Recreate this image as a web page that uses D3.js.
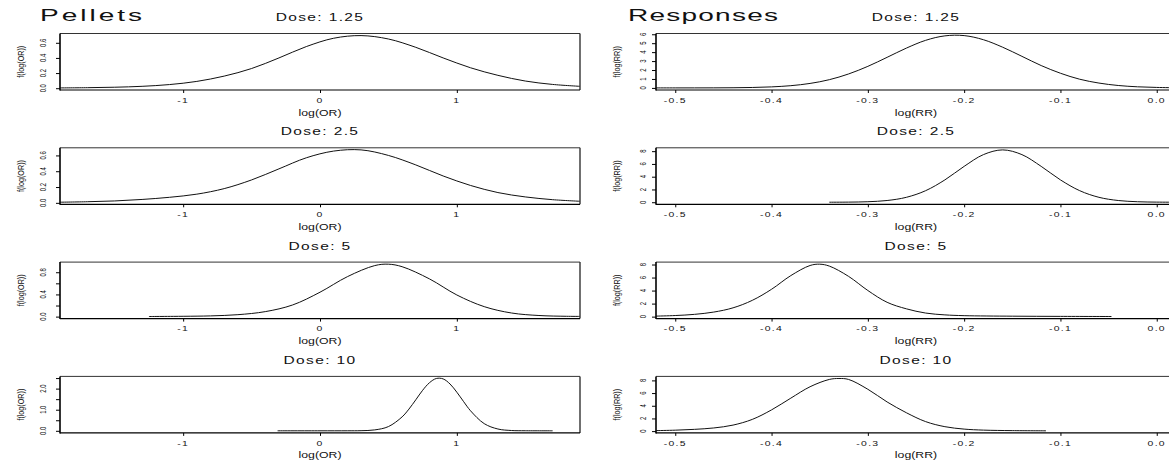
<!DOCTYPE html>
<html>
<head>
<meta charset="utf-8">
<script src="https://cdn.jsdelivr.net/npm/d3@7"></script>
<style>
  body { margin: 0; background: #fff; }
  text { font-family: "Liberation Sans", Arial, Helvetica, sans-serif; fill: #111; }
</style>
</head>
<body>
<svg id="chart" width="1169" height="466"></svg>
<script>
// Panel titles
const doses = ["1.25", "2.5", "5", "10"];

// Pellets: log(OR) grid and densities
const orGrid = [-1.9, -1.7, -1.5, -1.3, -1.1, -0.9, -0.7, -0.5, -0.3, -0.1, 0.1, 0.3, 0.5, 0.7, 0.9, 1.1, 1.3, 1.5, 1.7, 1.9];
const pellets125 = [0.004, 0.007, 0.013, 0.025, 0.048, 0.09, 0.16, 0.26, 0.40, 0.55, 0.66, 0.695, 0.65, 0.54, 0.40, 0.27, 0.17, 0.095, 0.05, 0.025];
const pellets25 = [0.008, 0.014, 0.024, 0.043, 0.07, 0.11, 0.18, 0.29, 0.43, 0.57, 0.655, 0.67, 0.60, 0.48, 0.34, 0.22, 0.13, 0.075, 0.04, 0.02];
const pellets5X = [-1.25, -1.0, -0.8, -0.6, -0.4, -0.2, 0, 0.2, 0.4, 0.5, 0.6, 0.8, 1.0, 1.2, 1.4, 1.6, 1.8, 1.9];
const pellets5 = [0.002, 0.006, 0.013, 0.035, 0.09, 0.21, 0.44, 0.72, 0.92, 0.945, 0.90, 0.68, 0.39, 0.18, 0.065, 0.02, 0.006, 0.004];
const pellets10X = [-0.31, 0.0, 0.2, 0.3, 0.4, 0.5, 0.6, 0.65, 0.7, 0.75, 0.8, 0.85, 0.9, 0.95, 1.0, 1.05, 1.1, 1.2, 1.3, 1.4, 1.5, 1.7];
const pellets10 = [0.0, 0.0, 0.001, 0.006, 0.043, 0.20, 0.66, 1.03, 1.47, 1.92, 2.28, 2.48, 2.46, 2.22, 1.83, 1.38, 0.95, 0.34, 0.085, 0.014, 0.003, 0.0];

// Responses: log(RR) grids and densities
const rr125X = [-0.52, -0.50, -0.48, -0.46, -0.44, -0.42, -0.40, -0.38, -0.36, -0.34, -0.32, -0.30, -0.28, -0.26, -0.24, -0.22, -0.20, -0.18, -0.16, -0.14, -0.12, -0.10, -0.08, -0.06, -0.04, -0.02, 0.00, 0.02];
const responses125 = [0.0, 0.001, 0.002, 0.006, 0.018, 0.048, 0.114, 0.25, 0.50, 0.92, 1.56, 2.41, 3.42, 4.45, 5.32, 5.82, 5.85, 5.39, 4.55, 3.53, 2.50, 1.64, 0.97, 0.54, 0.27, 0.124, 0.053, 0.02];
const rr25X = [-0.34, -0.32, -0.30, -0.28, -0.26, -0.24, -0.22, -0.20, -0.18, -0.16, -0.14, -0.12, -0.10, -0.08, -0.06, -0.04, -0.02, 0.0, 0.02];
const responses25 = [0.004, 0.019, 0.08, 0.27, 0.77, 1.81, 3.50, 5.62, 7.46, 8.2, 7.46, 5.62, 3.50, 1.81, 0.77, 0.27, 0.08, 0.019, 0.004];
const rr5X = [-0.52, -0.50, -0.48, -0.46, -0.44, -0.42, -0.40, -0.38, -0.36, -0.35, -0.34, -0.32, -0.30, -0.28, -0.26, -0.24, -0.22, -0.20, -0.15, -0.10, -0.047];
const responses5 = [0.08, 0.17, 0.35, 0.7, 1.35, 2.5, 4.2, 6.3, 7.85, 8.05, 7.76, 6.18, 4.01, 2.2, 1.2, 0.55, 0.27, 0.15, 0.07, 0.04, 0.02];
const rr10X = [-0.52, -0.50, -0.48, -0.46, -0.44, -0.42, -0.40, -0.38, -0.36, -0.34, -0.33, -0.32, -0.30, -0.28, -0.26, -0.24, -0.22, -0.20, -0.18, -0.15, -0.115];
const responses10 = [0.08, 0.15, 0.28, 0.5, 0.95, 1.85, 3.35, 5.2, 7.0, 8.15, 8.3, 8.15, 6.6, 4.6, 2.9, 1.5, 0.7, 0.32, 0.16, 0.08, 0.05];

// Axis ticks and labels
const orXTicks = [-1, 0, 1];
const orXLabels = ["-1", "0", "1"];
const rrXTicks = [-0.5, -0.4, -0.3, -0.2, -0.1, 0.0];
const rrXLabels = ["-0.5", "-0.4", "-0.3", "-0.2", "-0.1", "0.0"];
const pelletsYTicks = [[0, 0.2, 0.4, 0.6], [0, 0.2, 0.4, 0.6], [0, 0.2, 0.4, 0.6, 0.8], [0, 0.5, 1, 1.5, 2, 2.5]];
const pelletsYLabels = [["0.0", "0.2", "0.4", "0.6"], ["0.0", "0.2", "0.4", "0.6"], ["0.0", "", "0.4", "", "0.8"], ["0.0", "", "1.0", "", "2.0", ""]];
const responsesYTicks = [[0, 1, 2, 3, 4, 5, 6], [0, 2, 4, 6, 8], [0, 2, 4, 6, 8], [0, 2, 4, 6, 8]];
const responsesYLabels = [["0", "1", "2", "3", "4", "5", "6"], ["0", "2", "4", "6", "8"], ["0", "2", "4", "6", "8"], ["0", "2", "4", "6", "8"]];

const svg = d3.select("#chart");
svg.append("rect").attr("width", 1169).attr("height", 466).attr("fill", "#fff");

// the original picture is stretched sideways, so text gets a horizontal scale
function label(x, y, str, size, sx, opts) {
  opts = opts || {};
  const t = svg.append("text")
    .attr("transform", `translate(${x},${y}) scale(${sx},1)` + (opts.rotate ? " rotate(-90)" : ""))
    .attr("text-anchor", opts.anchor || "middle")
    .style("font-size", size + "px")
    .text(str);
  if (opts.spacing) t.style("letter-spacing", opts.spacing + "px");
  if (opts.length) t.attr("textLength", opts.length / sx).attr("lengthAdjust", "spacing");
  return t;
}

const columns = [
  { left: 60, right: 580, domain: [-1.9, 1.9], xs: [orGrid, orGrid, pellets5X, pellets10X],
    ys: [pellets125, pellets25, pellets5, pellets10], yTicks: pelletsYTicks, yLabels: pelletsYLabels,
    xTicks: orXTicks, xLabels: orXLabels, xTitle: "log(OR)", yTitle: "f(log(OR))",
    tickLabelOff: 14, yTitleX: 23.5, head: "Pellets", headX: 40, headLen: 102 },
  { left: 656, right: 1176, domain: [-0.52, 0.02], xs: [rr125X, rr25X, rr5X, rr10X],
    ys: [responses125, responses25, responses5, responses10], yTicks: responsesYTicks, yLabels: responsesYLabels,
    xTicks: rrXTicks, xLabels: rrXLabels, xTitle: "log(RR)", yTitle: "f(log(RR))",
    tickLabelOff: 10, yTitleX: 620, head: "Responses", headX: 628, headLen: 150 }
];

const rowTop = i => 33.5 + i * 114.3;
const plotH = 56.5;

columns.forEach(c => {
  label(c.headX, 21, c.head, 17, 1.65, { anchor: "start", length: c.headLen });

  const mid = (c.left + c.right) / 2;

  doses.forEach((dose, i) => {
    const top = rowTop(i), bottom = top + plotH;
    const xs = c.xs[i], ys = c.ys[i];
    const pts = xs.map((v, k) => [v, ys[k]]);

    const x = d3.scaleLinear().domain(c.domain).range([c.left, c.right]);
    const [lo, hi] = d3.extent(ys);
    const pad = (hi - lo) * 0.04;
    const y = d3.scaleLinear().domain([lo - pad, hi + pad]).range([bottom, top]);

    // curve
    const line = d3.line().x(d => x(d[0])).y(d => y(d[1])).curve(d3.curveCatmullRom.alpha(0.5));
    svg.append("path").datum(pts)
      .attr("d", line)
      .attr("fill", "none")
      .attr("stroke", "#111")
      .attr("stroke-width", 1);

    // box: thin top and right, heavier axis lines
    svg.append("line").attr("x1", c.left).attr("x2", c.right).attr("y1", top).attr("y2", top)
      .attr("stroke", "#333").attr("stroke-width", 1);
    svg.append("line").attr("x1", c.right).attr("x2", c.right).attr("y1", top).attr("y2", bottom)
      .attr("stroke", "#333").attr("stroke-width", 1.4);
    svg.append("line").attr("x1", c.left).attr("x2", c.left).attr("y1", top).attr("y2", bottom + 0.5)
      .attr("stroke", "#000").attr("stroke-width", 1.6);
    svg.append("line").attr("x1", c.left).attr("x2", c.right).attr("y1", bottom).attr("y2", bottom)
      .attr("stroke", "#000").attr("stroke-width", 1.2);

    // y ticks
    const gy = svg.append("g")
      .attr("transform", `translate(${c.left},0)`)
      .call(d3.axisLeft(y).tickValues(c.yTicks[i]).tickSize(4).tickFormat(""));
    gy.select(".domain").remove();
    gy.selectAll("line").attr("stroke", "#000").attr("stroke-width", 1);

    // x ticks
    const gx = svg.append("g")
      .attr("transform", `translate(0,${bottom})`)
      .call(d3.axisBottom(x).tickValues(c.xTicks).tickSize(3).tickFormat(""));
    gx.select(".domain").remove();
    gx.selectAll("line").attr("stroke", "#000").attr("stroke-width", 1);

    c.yTicks[i].forEach((t, k) => {
      if (c.yLabels[i][k]) label(c.left - c.tickLabelOff, y(t), c.yLabels[i][k], 6, 1.4, { rotate: true });
    });
    c.xTicks.forEach((t, k) => {
      label(x(t), bottom + 12.7, c.xLabels[k], 6.5, 1.6, { spacing: 0.8 });
    });

    label(mid, top - 12.5, "Dose: " + dose, 11.5, 1.35, { spacing: 1.0 });
    label(mid, bottom + 25.5, c.xTitle, 8.2, 1.5);
    label(c.yTitleX, top + plotH / 2, c.yTitle, 7.2, 1.2, { rotate: true });
  });
});
</script>
</body>
</html>
